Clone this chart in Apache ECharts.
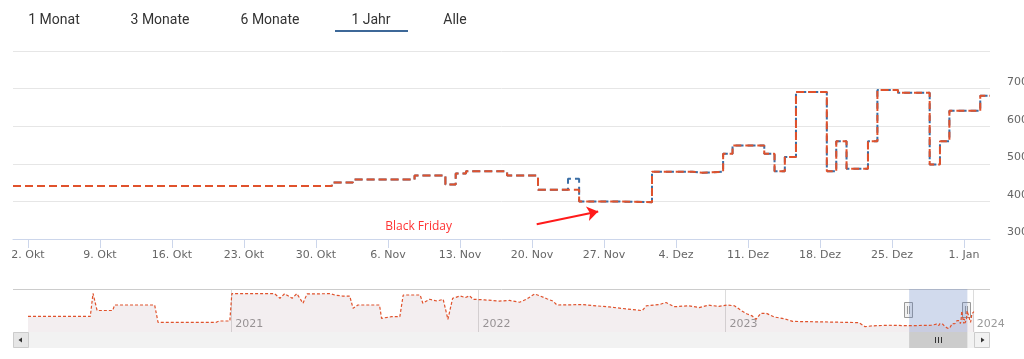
<!DOCTYPE html>
<html>
<head>
<meta charset="utf-8">
<script src="https://cdn.jsdelivr.net/npm/echarts@6/dist/echarts.min.js"></script>
<style>
html,body{margin:0;padding:0;background:#fff;}
#c{width:1024px;height:359px;}
</style>
</head>
<body>
<div id="c"></div>
<script>
// ---------- DATA ----------
const rangeButtons = ['1 Monat', '3 Monate', '6 Monate', '1 Jahr', 'Alle'];
const monthNames = ['Jan','Feb','Mär','Apr','Mai','Jun','Jul','Aug','Sep','Okt','Nov','Dez'];
const tickDates = ['2023-10-02','2023-10-09','2023-10-16','2023-10-23','2023-10-30','2023-11-06','2023-11-13','2023-11-20','2023-11-27','2023-12-04','2023-12-11','2023-12-18','2023-12-25','2024-01-01'];
const yearTicks = ['2021-01-01','2022-01-01','2023-01-01','2024-01-01'];

const redTimes = ['2023-09-30 13:00','2023-10-31 13:00','2023-11-02 14:00','2023-11-08 14:00','2023-11-11 14:00','2023-11-12 14:00','2023-11-13 14:00','2023-11-17 14:00','2023-11-20 14:00','2023-11-24 14:00','2023-11-27 14:00','2023-12-01 16:00','2023-12-05 14:00','2023-12-06 14:00','2023-12-08 14:00','2023-12-09 12:00','2023-12-12 14:00','2023-12-13 14:00','2023-12-14 14:00','2023-12-15 16:00','2023-12-18 16:00','2023-12-19 14:00','2023-12-20 14:00','2023-12-22 16:00','2023-12-23 14:00','2023-12-25 14:00','2023-12-28 16:00','2023-12-29 16:00','2023-12-30 14:00','2024-01-02 14:00','2024-01-03 12:45'];
const redValues = [441,450,458,469,445,474,480,469,431,400,398,479,476,479,527,549,527,480,518,691,480,560,487,560,696,689,498,560,641,681,681];

const blueTimes = ['2023-09-30 13:00','2023-10-31 13:00','2023-11-02 14:00','2023-11-08 14:00','2023-11-11 14:00','2023-11-12 14:00','2023-11-13 14:00','2023-11-17 14:00','2023-11-20 14:00','2023-11-23 12:00','2023-11-24 14:00','2023-11-27 14:00','2023-12-01 16:00','2023-12-05 14:00','2023-12-06 14:00','2023-12-08 14:00','2023-12-09 12:00','2023-12-12 14:00','2023-12-13 14:00','2023-12-14 14:00','2023-12-15 16:00','2023-12-18 16:00','2023-12-19 14:00','2023-12-20 14:00','2023-12-22 16:00','2023-12-23 14:00','2023-12-25 14:00','2023-12-28 16:00','2023-12-29 16:00','2023-12-30 14:00','2024-01-02 14:00','2024-01-03 12:45'];
const blueValues = [441,450,458,469,445,474,480,469,431,460,400,398,479,476,479,527,549,527,480,518,691,480,560,487,560,696,689,498,560,641,681,681];

const navTimes = ['2020-03-07','2020-06-07','2020-06-11','2020-06-17','2020-07-10','2020-07-13','2020-09-10','2020-09-15','2020-12-10','2020-12-14','2020-12-30','2021-01-02','2021-03-06','2021-03-14','2021-03-21','2021-04-01','2021-04-08','2021-04-17','2021-04-23','2021-05-27','2021-06-03','2021-06-14','2021-06-25','2021-06-30','2021-07-07','2021-08-08','2021-08-11','2021-08-26','2021-09-07','2021-09-12','2021-10-07','2021-10-11','2021-10-21','2021-11-01','2021-11-10','2021-11-17','2021-11-24','2021-12-05','2021-12-13','2021-12-19','2021-12-24','2022-01-10','2022-02-01','2022-02-16','2022-03-03','2022-03-13','2022-03-25','2022-04-01','2022-04-12','2022-04-21','2022-04-27','2022-06-04','2022-07-13','2022-08-31','2022-09-06','2022-09-25','2022-10-05','2022-10-17','2022-11-08','2022-11-23','2022-12-07','2022-12-22','2023-01-03','2023-01-14','2023-01-24','2023-02-02','2023-02-09','2023-02-15','2023-02-22','2023-03-02','2023-03-14','2023-03-29','2023-04-10','2023-06-03','2023-07-17','2023-07-26','2023-08-05','2023-08-30','2023-09-29'];
const navValues = [600,600,991,700,700,793,793,500,500,522,522,985,985,907,985,907,985,822,980,985,962,945,945,737,793,793,568,595,595,962,962,822,890,860,890,551,907,945,920,950,890,880,860,870,840,890,980,950,900,860,793,800,760,697,780,800,836,764,780,750,790,770,793,780,700,640,610,551,653,653,590,560,515,505,495,426,440,450,443];

const annotationText = 'Black Friday';
const arrowFrom = ['2023-11-20 11:00', 339];
const arrowTo = ['2023-11-26 10:30', 373];
const labelAt = ['2023-11-08 23:30', 333];
const mainRange = ['2023-09-30 13:00', '2024-01-03 12:45'];
const navRange = ['2020-03-07', '2024-01-03 12:45'];
const selection = ['2023-09-29 00:00', '2023-12-24 00:00'];

// ---------- HELPERS ----------
function ts(s) {
  const parts = s.split(' ');
  const d = parts[0].split('-').map(Number);
  const t = (parts[1] || '00:00').split(':').map(Number);
  return new Date(d[0], d[1] - 1, d[2], t[0], t[1]).getTime();
}
function zip(times, vals) { return times.map((t, i) => [ts(t), vals[i]]); }

const redData = zip(redTimes, redValues);
const blueData = zip(blueTimes, blueValues);
const navData = zip(navTimes, navValues).concat(redData);

const RED = '#e0522c';
const BLUE = '#3a6ea5';

const chart = echarts.init(document.getElementById('c'), null, {renderer: 'canvas'});
const option = {
  animation: false,
  textStyle: {fontFamily: 'DejaVu Sans'},
  grid: [
    {left: 13, right: 34, top: 51, bottom: 120, containLabel: false, outerBoundsMode: 'none'},
    {left: 28, right: 49.5, top: 289, bottom: 27, containLabel: false, outerBoundsMode: 'none'}
  ],
  xAxis: [
    {
      type: 'value', gridIndex: 0,
      min: ts(mainRange[0]), max: ts(mainRange[1]),
      axisLine: {show: true, onZero: false, lineStyle: {color: '#ccd6eb'}},
      axisTick: {show: true, length: 9, lineStyle: {color: '#ccd6eb'}, customValues: tickDates.map(ts)},
      axisLabel: {
        customValues: tickDates.map(ts), color: '#666', fontSize: 11, margin: 11,
        fontFamily: 'DejaVu Sans',
        formatter: v => { const d = new Date(v); return d.getDate() + '. ' + monthNames[d.getMonth()]; }
      },
      splitLine: {show: false}
    },
    {
      type: 'value', gridIndex: 1,
      min: ts(navRange[0]), max: ts(navRange[1]),
      axisLine: {show: false, onZero: false},
      axisTick: {show: false, customValues: yearTicks.map(ts)},
      axisLabel: {
        customValues: yearTicks.map(ts), inside: true, color: '#999', fontSize: 11, margin: 2,
        align: 'left', padding: [0, 0, 0, 4], verticalAlign: 'bottom',
        fontFamily: 'DejaVu Sans',
        formatter: v => String(new Date(v).getFullYear())
      },
      splitLine: {show: true, lineStyle: {color: '#dcdcdc', width: 1}}
    }
  ],
  yAxis: [
    {
      type: 'value', gridIndex: 0, position: 'right',
      min: 300, max: 800, interval: 100,
      axisLine: {show: false}, axisTick: {show: false},
      axisLabel: {color: '#666', fontSize: 11, margin: 17, align: 'left', verticalAlign: 'bottom', showMaxLabel: false, fontFamily: 'DejaVu Sans', padding: [0, 0, 1, 0]},
      splitLine: {lineStyle: {color: '#e6e6e6'}}
    },
    {
      type: 'value', gridIndex: 1, min: 336, max: 1064,
      show: false, splitLine: {show: false}
    }
  ],
  series: [
    {
      name: 'blue', type: 'line', xAxisIndex: 0, yAxisIndex: 0, step: 'end',
      data: blueData, symbol: 'none', z: 2,
      lineStyle: {color: BLUE, width: 2, type: [8, 4]}
    },
    {
      name: 'red', type: 'line', xAxisIndex: 0, yAxisIndex: 0, step: 'end',
      data: redData, symbol: 'none', z: 3,
      lineStyle: {color: RED, width: 2, type: [8, 4]},
      markLine: {
        silent: true, symbol: ['none', 'arrow'], symbolSize: 11,
        lineStyle: {color: '#ff1a1a', width: 2, type: 'solid'},
        label: {show: false},
        data: [[{coord: [ts(arrowFrom[0]), arrowFrom[1]]}, {coord: [ts(arrowTo[0]), arrowTo[1]]}]]
      },
      markPoint: {
        silent: true, symbol: 'rect', symbolSize: 1,
        itemStyle: {color: 'rgba(0,0,0,0)'},
        label: {show: true, position: 'inside', formatter: annotationText, color: '#ff3333', fontSize: 12, fontFamily: 'Open Sans'},
        data: [{coord: [ts(labelAt[0]), labelAt[1]]}]
      }
    },
    {
      name: 'nav', type: 'line', xAxisIndex: 1, yAxisIndex: 1,
      data: navData, symbol: 'none', z: 2,
      lineStyle: {color: RED, width: 1.2, type: [3, 2]},
      areaStyle: {color: '#8a5a70', opacity: 0.1},
      markArea: {
        silent: true,
        itemStyle: {color: 'rgba(102,133,194,0.3)'},
        data: [[{xAxis: ts(selection[0])}, {xAxis: ts(selection[1])}]]
      }
    }
  ]
};
chart.setOption(option);

// ---------- DECORATION (range selector, navigator handles, scrollbar) ----------
const btnX = [54, 160, 270, 371, 455];
const g = [];
rangeButtons.forEach((t, i) => {
  g.push({type: 'text', x: btnX[i], y: 20, style: {text: t, fill: '#333', font: '14px Roboto', align: 'center', verticalAlign: 'middle'}});
});
g.push({type: 'rect', shape: {x: 335, y: 30, width: 73, height: 2}, style: {fill: '#3d6898'}});
g.push({type: 'line', shape: {x1: 13, y1: 289.5, x2: 990, y2: 289.5}, style: {stroke: '#cccccc', lineWidth: 1}});
const sx0 = chart.convertToPixel({xAxisIndex: 1}, ts(selection[0]));
const sx1 = chart.convertToPixel({xAxisIndex: 1}, ts(selection[1]));
g.push({type: 'rect', shape: {x: 13, y: 332, width: 977, height: 16}, style: {fill: '#f2f2f2'}});
g.push({type: 'rect', shape: {x: 13.5, y: 332.5, width: 15, height: 15}, style: {fill: '#e6e6e6', stroke: '#cccccc'}});
g.push({type: 'polygon', shape: {points: [[18.5, 340], [22, 337.5], [22, 342.5]]}, style: {fill: '#333'}});
g.push({type: 'rect', shape: {x: 974.5, y: 332.5, width: 15, height: 15}, style: {fill: '#f2f2f2', stroke: '#cccccc'}});
g.push({type: 'polygon', shape: {points: [[984.5, 340], [981, 337.5], [981, 342.5]]}, style: {fill: '#333'}});
g.push({type: 'rect', shape: {x: sx0, y: 332, width: sx1 - sx0, height: 16}, style: {fill: '#cccccc'}});
const mid = Math.round((sx0 + sx1) / 2) + 0.5;
[-3, 0, 3].forEach(d => g.push({type: 'line', shape: {x1: mid + d, y1: 337, x2: mid + d, y2: 343}, style: {stroke: '#333', lineWidth: 1}}));
[sx0, sx1].forEach(x => {
  const hx = Math.round(x) - 4.5;
  g.push({type: 'rect', shape: {x: hx, y: 302.5, width: 8, height: 15}, style: {fill: '#f2f2f2', stroke: '#999999', lineWidth: 1}});
  g.push({type: 'line', shape: {x1: hx + 3, y1: 306, x2: hx + 3, y2: 314}, style: {stroke: '#999999', lineWidth: 1}});
  g.push({type: 'line', shape: {x1: hx + 5, y1: 306, x2: hx + 5, y2: 314}, style: {stroke: '#999999', lineWidth: 1}});
});
chart.setOption({graphic: g});
</script>
</body>
</html>
